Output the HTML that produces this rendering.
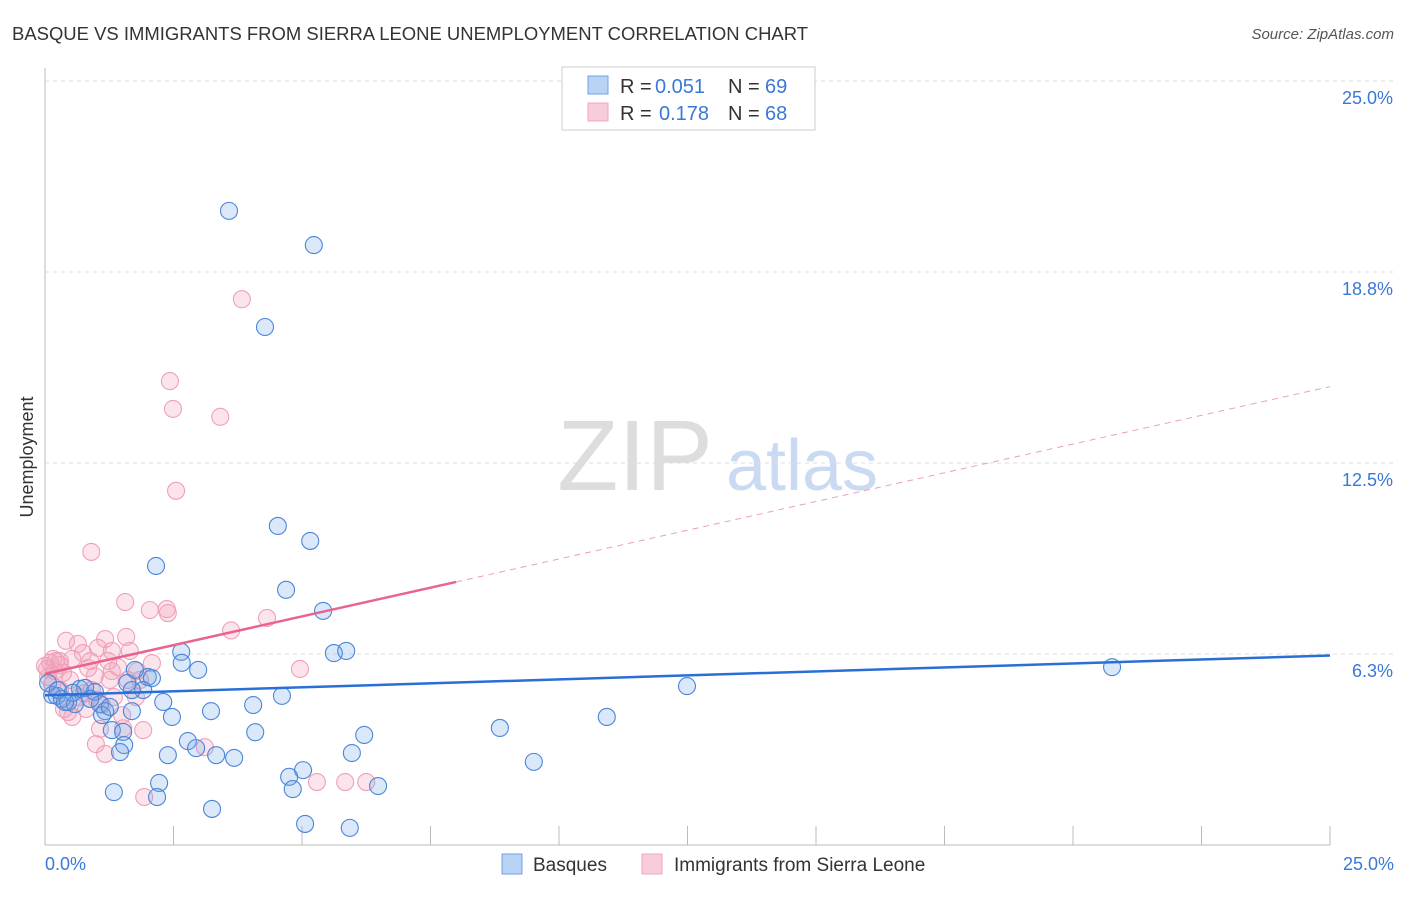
<!DOCTYPE html>
<html><head><meta charset="utf-8"><style>
body{margin:0;background:#fff;font-family:"Liberation Sans",sans-serif}
text{font-family:"Liberation Sans",sans-serif}
</style></head><body>
<svg id="c" width="1406" height="892">
<text x="12" y="40" font-size="18" fill="#333" textLength="796" lengthAdjust="spacingAndGlyphs">BASQUE VS IMMIGRANTS FROM SIERRA LEONE UNEMPLOYMENT CORRELATION CHART</text>
<text x="1394" y="39" font-size="15" fill="#555" font-style="italic" text-anchor="end">Source: ZipAtlas.com</text>
<text x="33" y="457" font-size="18" fill="#333" text-anchor="middle" transform="rotate(-90 33 457)">Unemployment</text>
<g><text x="635" y="490" font-size="100" fill="#ddd" font-family="Liberation Serif" text-anchor="middle">ZIP</text><text x="802" y="490" font-size="72" fill="#c9daf2" text-anchor="middle">atlas</text></g>
<g id="grid"></g><g id="pts"></g><g id="lines"></g>
<g>
<rect x="562" y="67" width="253" height="63" fill="#fff" stroke="#ccc"/>
<rect x="588" y="76" width="20" height="18" fill="#b9d3f5" stroke="#6fa3e8"/>
<rect x="588" y="103" width="20" height="18" fill="#f9ccda" stroke="#f3a5bd"/>
<text x="620" y="93" font-size="20" fill="#333">R =</text><text x="655" y="93" font-size="20" fill="#3a78d8">0.051</text>
<text x="728" y="93" font-size="20" fill="#333">N =</text><text x="765" y="93" font-size="20" fill="#3a78d8">69</text>
<text x="620" y="120" font-size="20" fill="#333">R =</text><text x="659" y="120" font-size="20" fill="#3a78d8">0.178</text>
<text x="728" y="120" font-size="20" fill="#333">N =</text><text x="765" y="120" font-size="20" fill="#3a78d8">68</text>
</g>
<g>
<rect x="502" y="854" width="20" height="20" fill="#b9d3f5" stroke="#6fa3e8"/>
<text x="533" y="871" font-size="19" fill="#333">Basques</text>
<rect x="642" y="854" width="20" height="20" fill="#f9ccda" stroke="#f3a5bd"/>
<text x="674" y="871" font-size="19" fill="#333">Immigrants from Sierra Leone</text>
</g>
</svg>
<script>
const yTicks=[6.25,12.5,18.75,25];
const yTickLabels=["6.3%","12.5%","18.8%","25.0%"];
const xTickLabels=["0.0%","25.0%"];
const blueX=[3.58,5.23,4.28,4.53,5.16,2.16,4.69,5.41,2.65,5.62,5.86,2.66,2.98,2.0,2.08,1.75,1.6,1.91,0.23,0.14,0.33,0.45,0.68,0.97,1.07,1.17,1.69,1.11,2.3,2.47,3.23,4.05,4.61,1.3,1.52,1.54,1.46,2.78,2.94,3.33,3.68,2.39,4.09,6.21,5.97,5.02,4.75,4.82,6.48,2.22,2.18,1.34,3.25,5.06,5.93,8.85,9.51,10.93,12.49,20.76,0.06,0.25,0.78,1.26,0.88,0.58,1.69,0.54,0.39];
const blueY=[20.75,19.63,16.95,10.44,9.95,9.13,8.35,7.66,6.32,6.28,6.35,5.96,5.73,5.5,5.46,5.73,5.3,5.07,4.88,4.91,4.78,4.68,5.11,5.01,4.61,4.38,4.38,4.25,4.68,4.19,4.38,4.58,4.88,3.76,3.7,3.27,3.04,3.4,3.17,2.94,2.85,2.94,3.69,3.6,3.01,2.45,2.23,1.83,1.93,2.03,1.57,1.73,1.18,0.69,0.56,3.83,2.72,4.19,5.2,5.82,5.3,5.07,5.14,4.52,4.78,4.61,5.07,4.98,4.68];
const pinkX=[3.83,2.43,2.49,3.41,2.55,0.9,1.56,2.04,2.37,2.39,3.62,4.32,1.58,1.17,0.41,0.64,1.3,1.03,0.74,0.53,0.29,0.1,0.04,0.19,0.35,0.84,1.23,1.42,2.08,4.96,1.61,0.97,0.49,0.06,0.14,0.76,1.01,0.29,1.77,1.5,1.11,1.91,0.45,0.53,1.52,1.07,0.99,1.17,3.11,1.93,5.29,5.84,6.25,0.91,0.66,0.21,1.65,1.79,1.3,0.37,0.0,0.16,0.29,0.88,1.26,1.85,0.8,1.34];
const pinkY=[17.86,15.18,14.27,14.01,11.59,9.59,7.95,7.69,7.72,7.59,7.02,7.43,6.81,6.74,6.68,6.58,6.35,6.45,6.28,6.09,6.02,5.96,5.76,5.69,5.63,5.79,6.02,5.82,5.95,5.76,5.4,5.53,5.4,5.5,5.24,4.97,4.75,5.07,4.84,4.25,4.58,3.76,4.35,4.19,3.82,3.8,3.3,2.98,3.2,1.57,2.06,2.06,2.06,5.07,4.84,6.02,6.35,5.69,5.69,4.45,5.86,6.09,5.89,6.02,5.4,5.4,4.45,4.84];
const blueLine=[4.9,6.2];
const pinkLine=[5.6,15.0];
const pinkSolidEnd=8.0;
const L=45,R=1330,T=81,B=845;
const xs=v=>L+(R-L)*v/25, ys=v=>B-(B-T)*v/25;
const NS="http://www.w3.org/2000/svg";
function mk(t,a,p){const e=document.createElementNS(NS,t);for(const k in a)e.setAttribute(k,a[k]);p.appendChild(e);return e;}
const g=document.getElementById('grid');
mk('line',{x1:L,y1:68,x2:L,y2:B,stroke:'#bbb'},g);
mk('line',{x1:L,y1:B,x2:R,y2:B,stroke:'#bbb'},g);
yTicks.forEach((v,i)=>{const ln=mk('line',{x1:L,y1:ys(v),x2:1394,y2:ys(v),stroke:'#ddd','stroke-dasharray':'4,4'},g);


const t=mk('text',{x:1393,y:ys(v)+23,'font-size':18,fill:'#3a78d8','text-anchor':'end'},g);t.textContent=yTickLabels[i];

});
for(let i=1;i<=10;i++){const x=L+(R-L)*i/10;mk('line',{x1:x,y1:826,x2:x,y2:B,stroke:'#bbb'},g);}
[[0,'start',45],[1,'end',1394]].forEach(([i,a,x])=>{const t=mk('text',{x:x,y:870,'font-size':18,fill:'#3a78d8','text-anchor':a},g);t.textContent=xTickLabels[i];

});
const p=document.getElementById('pts');
pinkX.forEach((v,i)=>{const c=mk('circle',{cx:xs(v),cy:ys(pinkY[i]),r:8.5,fill:'rgba(243,165,189,0.3)',stroke:'#f0a0b8','stroke-width':1.1},p);

});
blueX.forEach((v,i)=>{const c=mk('circle',{cx:xs(v),cy:ys(blueY[i]),r:8.5,fill:'rgba(111,163,232,0.25)',stroke:'#4a86d8','stroke-width':1.1},p);

});
const l=document.getElementById('lines');
const pl=v=>pinkLine[0]+(pinkLine[1]-pinkLine[0])*v/25;
const b=mk('line',{x1:xs(0),y1:ys(blueLine[0]),x2:xs(25),y2:ys(blueLine[1]),stroke:'#2a6fd6','stroke-width':2.5},l);


const ps=mk('line',{x1:xs(0),y1:ys(pl(0)),x2:xs(pinkSolidEnd),y2:ys(pl(pinkSolidEnd)),stroke:'#e8648f','stroke-width':2.5},l);


const pd=mk('line',{x1:xs(pinkSolidEnd),y1:ys(pl(pinkSolidEnd)),x2:xs(25),y2:ys(pl(25)),stroke:'#e8a0b8','stroke-width':1,'stroke-dasharray':'6,5'},l);


</script>
</body></html>
